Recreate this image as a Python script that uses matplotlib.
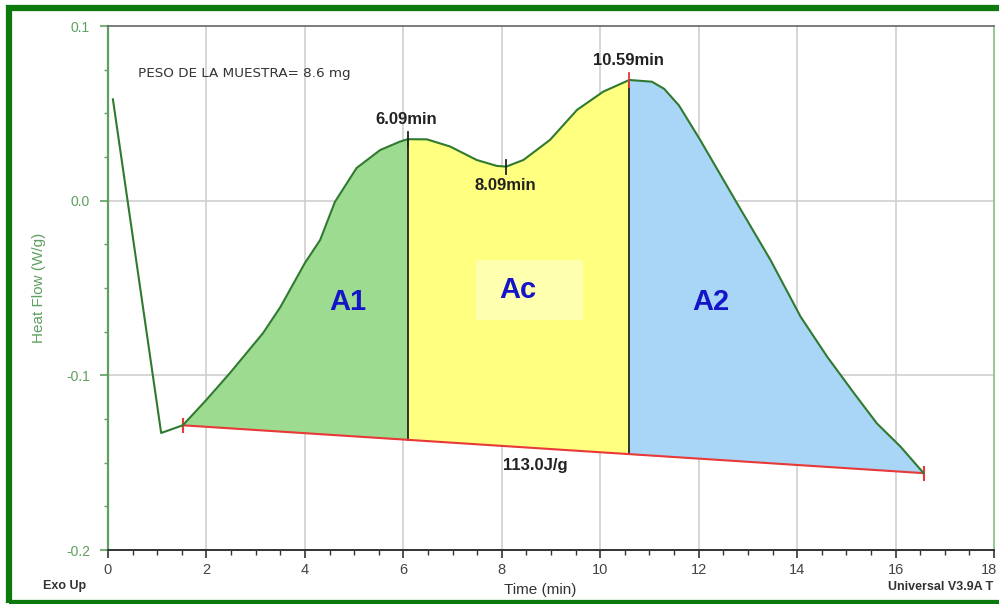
import numpy as np
import matplotlib
matplotlib.use("Agg")
import matplotlib.pyplot as plt
from matplotlib.patches import Rectangle
from matplotlib.ticker import MultipleLocator
from matplotlib.transforms import ScaledTranslation

plt.rcParams['font.family'] = ['Liberation Sans', 'DejaVu Sans']

# DSC heat-flow trace (time in min, heat flow in W/g)
time = np.array([0.10, 1.08, 1.52, 2.00, 2.48, 3.15, 3.50, 4.00, 4.31, 4.61,
                 5.05, 5.53, 5.93, 6.09, 6.48, 6.95, 7.49, 7.90, 8.09, 8.44,
                 8.98, 9.53, 10.06, 10.59, 11.05, 11.30, 11.60, 12.03, 12.78,
                 13.46, 14.07, 14.61, 15.15, 15.62, 16.10, 16.57])
heat_flow = np.array([0.058, -0.133, -0.1286, -0.114, -0.0986, -0.0758, -0.061,
                      -0.0357, -0.0225, -0.0007, 0.0187, 0.029, 0.0338, 0.0352,
                      0.0351, 0.031, 0.0233, 0.0199, 0.0195, 0.0233, 0.0348,
                      0.052, 0.0624, 0.0691, 0.0681, 0.064, 0.0545, 0.0348,
                      -0.0015, -0.034, -0.0664, -0.0893, -0.110, -0.1275,
                      -0.1408, -0.156])

# Integration limits and characteristic times
limit_start, limit_end = 1.52, 16.57
peak1_time, valley_time, peak2_time = 6.09, 8.09, 10.59
enthalpy = 113.0  # J/g
sample_mass = 8.6  # mg

x_ticks = [0, 2, 4, 6, 8, 10, 12, 14, 16, 18]
y_ticks = [-0.2, -0.1, 0.0, 0.1]

curve_color = "#2f7a2f"
axis_green = "#5f9f5f"
label_blue = "#1414c8"

fig = plt.figure(figsize=(9.99, 6.04), dpi=100)
ax = fig.add_axes([108 / 999, 54 / 604, 886 / 999, 524 / 604])

# Straight integration baseline between the two limits
base_y0 = np.interp(limit_start, time, heat_flow)
base_y1 = np.interp(limit_end, time, heat_flow)


def baseline(t):
    return base_y0 + (base_y1 - base_y0) * (t - limit_start) / (limit_end - limit_start)


base = baseline(time)
regions = [
    ((time >= limit_start) & (time <= peak1_time), "#9ddc90"),
    ((time >= peak1_time) & (time <= peak2_time), "#ffff80"),
    ((time >= peak2_time) & (time <= limit_end), "#a9d6f7"),
]
for mask, color in regions:
    ax.fill_between(time, heat_flow, base, where=mask, color=color, lw=0, zorder=2)

# grid
for gx in x_ticks[1:-1]:
    ax.axvline(gx, color="#cfcfcf", lw=1.2, zorder=1.5)
for gy in [0.0, -0.1]:
    ax.axhline(gy, color="#cfcfcf", lw=1.2, zorder=1.5)

# "Ac" label backdrop
ac_x, ac_y = 8.33, -0.051
ax.add_patch(Rectangle((ac_x - 0.86, ac_y - 0.0175), 2.17, 0.0343,
                       facecolor="#ffffb0", edgecolor="none", zorder=2.5))

# Partition lines at the two peaks
for t in (peak1_time, peak2_time):
    ax.plot([t, t], [baseline(t), np.interp(t, time, heat_flow)],
            color="#222222", lw=1.3, zorder=3)

# Baseline
ax.plot([limit_start, limit_end], [base_y0, base_y1], color="#e83838", lw=1.5, zorder=3)
for t, y in ((limit_start, base_y0), (limit_end, base_y1)):
    ax.plot([t, t], [y - 0.0038, y + 0.0038], color="#e83838", lw=1.5, zorder=3)

# Heat-flow curve
ax.plot(time, heat_flow, color=curve_color, lw=1.5, zorder=4)

# Event markers
for t, c in ((peak1_time, "#222222"), (valley_time, "#222222"), (peak2_time, "#e83838")):
    y = np.interp(t, time, heat_flow)
    ax.plot([t, t], [y - 0.004, y + 0.004], color=c, lw=1.3, zorder=5)

# Annotations
ax.text(peak1_time - 0.04, 0.0462, f"{peak1_time:.2f}min", ha="center", va="center",
        fontsize=12, fontweight="bold", color="#222222", zorder=6)
ax.text(valley_time - 0.02, 0.0088, f"{valley_time:.2f}min", ha="center", va="center",
        fontsize=12, fontweight="bold", color="#222222", zorder=6)
ax.text(peak2_time - 0.02, 0.0803, f"{peak2_time:.2f}min", ha="center", va="center",
        fontsize=12, fontweight="bold", color="#222222", zorder=6)
ax.text(8.68, -0.1515, f"{enthalpy:.1f}J/g", ha="center", va="center",
        fontsize=12, fontweight="bold", color="#222222", zorder=6)
ax.text(0.61, 0.0727, f"PESO DE LA MUESTRA= {sample_mass} mg", ha="left", va="center",
        fontsize=9.7, family="DejaVu Sans", color="#333333", zorder=6)

ax.text(4.88, -0.058, "A1", ha="center", va="center", fontsize=21,
        fontweight="bold", color=label_blue, zorder=6)
ax.text(ac_x, ac_y, "Ac", ha="center", va="center", fontsize=21,
        fontweight="bold", color=label_blue, zorder=6)
ax.text(12.24, -0.058, "A2", ha="center", va="center", fontsize=21,
        fontweight="bold", color=label_blue, zorder=6)

# Axes styling
ax.set_xlim(0, 18)
ax.set_ylim(-0.2, 0.1)
ax.set_xticks(x_ticks)
ax.set_yticks(y_ticks)
ax.set_yticklabels([f"{v:.1f}" for v in y_ticks])
ax.xaxis.set_minor_locator(MultipleLocator(0.5))
ax.yaxis.set_minor_locator(MultipleLocator(0.025))
ax.tick_params(axis="x", which="major", length=6, width=1.2, color="#333333",
               labelsize=10.5, labelcolor="#444444", pad=3)
ax.tick_params(axis="x", which="minor", length=3.5, width=1.0, color="#333333")
ax.tick_params(axis="y", which="major", length=6, width=1.2, color=axis_green,
               labelsize=10, labelcolor=axis_green, pad=7)
ax.tick_params(axis="y", which="minor", length=3, width=1.0, color=axis_green)

# keep the last x label inside the figure edge
fig.canvas.draw()
last_label = ax.get_xticklabels()[-1]
last_label.set_transform(last_label.get_transform()
                         + ScaledTranslation(-5 / 100, 0, fig.dpi_scale_trans))

ax.spines["left"].set_color(axis_green)
ax.spines["left"].set_linewidth(1.6)
ax.spines["right"].set_color("#84c084")
ax.spines["right"].set_linewidth(1.2)
ax.spines["top"].set_color("#666666")
ax.spines["top"].set_linewidth(1.2)
ax.spines["bottom"].set_color("#333333")
ax.spines["bottom"].set_linewidth(1.4)
ax.set_facecolor("white")

ax.set_ylabel("Heat Flow (W/g)", fontsize=11, color=axis_green, labelpad=14)
fig.text(540 / 999, 1 - 590 / 604, "Time (min)", ha="center", va="center",
         fontsize=11, color="#333333")
fig.text(43 / 999, 1 - 586 / 604, "Exo Up", ha="left", va="center",
         fontsize=9, fontweight="bold", color="#333333")
fig.text(888 / 999, 1 - 587 / 604, "Universal V3.9A T", ha="left", va="center",
         fontsize=9, fontweight="bold", color="#333333")

# Outer frame
fig.patches.append(Rectangle((8.5 / 999, 1 - 603 / 604), 1.1, (603 - 8) / 604,
                             transform=fig.transFigure, fill=False,
                             edgecolor="#0b790b", lw=4.5, zorder=10))

fig.savefig("out.png", dpi=100, facecolor="white")
